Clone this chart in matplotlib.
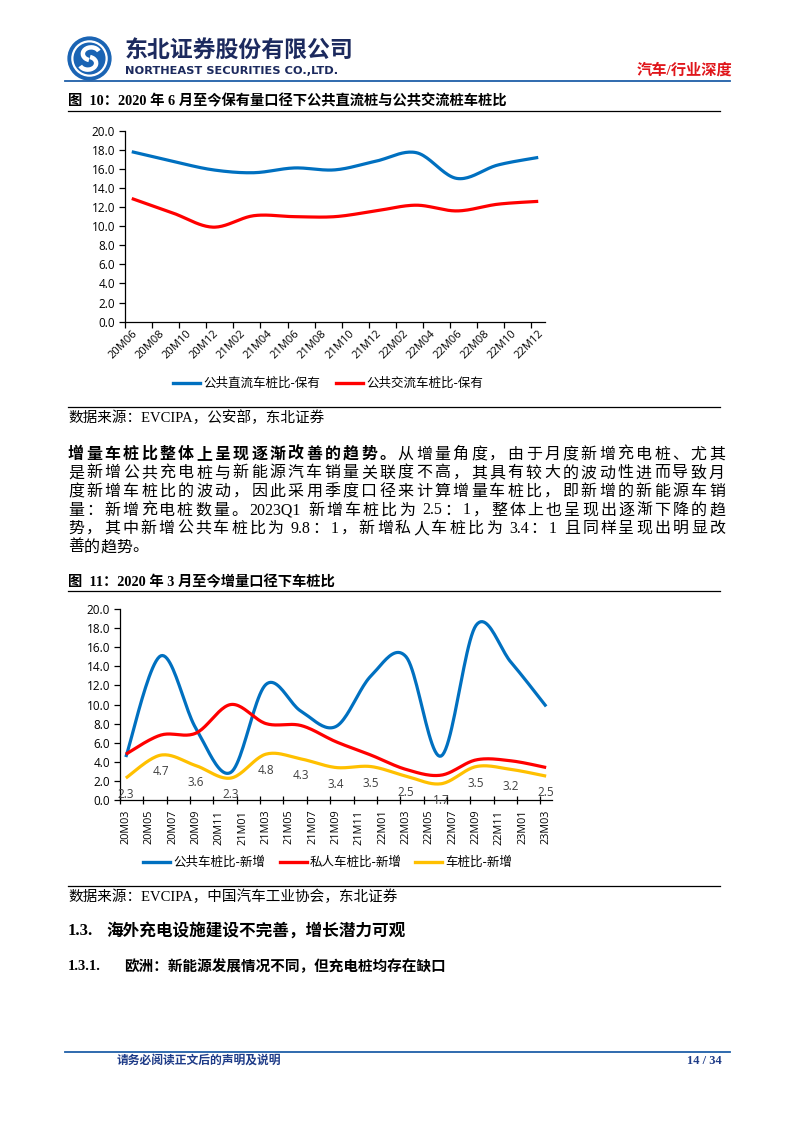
import numpy as np
import matplotlib
matplotlib.use("Agg")
import matplotlib.pyplot as plt
from matplotlib.lines import Line2D
from matplotlib.patches import Circle, Arc

# Fig 10: stock ratio, quarterly points on a monthly axis
months_fig10 = ["20M06", "20M09", "20M12", "21M03", "21M06", "21M09",
                "21M12", "22M03", "22M06", "22M09", "22M12"]
dc_public = [17.8, 16.8, 15.9, 15.6, 16.1, 15.9, 16.8, 17.7, 15.0, 16.4, 17.2]
ac_public = [12.9, 11.4, 9.9, 11.1, 11.0, 11.0, 11.6, 12.2, 11.6, 12.3, 12.6]
ticks_fig10 = ["20M06", "20M08", "20M10", "20M12", "21M02", "21M04", "21M06", "21M08",
               "21M10", "21M12", "22M02", "22M04", "22M06", "22M08", "22M10", "22M12"]
legend_fig10 = ["公共直流车桩比-保有", "公共交流车桩比-保有"]

# Fig 11: new additions, quarterly
months_fig11 = ["20M03", "20M06", "20M09", "20M12", "21M03", "21M06", "21M09",
                "21M12", "22M03", "22M06", "22M09", "22M12", "23M03"]
public_new = [4.5, 15.1, 7.5, 2.9, 12.1, 9.3, 7.7, 13.0, 15.0, 4.6, 18.3, 14.4, 9.8]
private_new = [4.8, 6.8, 7.0, 10.0, 8.0, 7.8, 6.1, 4.7, 3.2, 2.6, 4.2, 4.1, 3.4]
total_new = [2.3, 4.7, 3.6, 2.3, 4.8, 4.3, 3.4, 3.5, 2.5, 1.7, 3.5, 3.2, 2.5]
ticks_fig11 = ["20M03", "20M05", "20M07", "20M09", "20M11", "21M01", "21M03", "21M05",
               "21M07", "21M09", "21M11", "22M01", "22M03", "22M05", "22M07", "22M09",
               "22M11", "23M01", "23M03"]
legend_fig11 = ["公共车桩比-新增", "私人车桩比-新增", "车桩比-新增"]

BLUE, RED, YELLOW = "#0070c0", "#ff0000", "#ffc000"
W, H = 794, 1123
CJK = "Noto Sans CJK SC"
SERIF = ["Liberation Serif", CJK]
NUM = ["Open Sans", "DejaVu Sans"]

fig = plt.figure(figsize=(W / 100, H / 100), dpi=100)
renderer = fig.canvas.get_renderer()


def fx(x):
    return x / W


def fy(y):
    return 1 - y / H


def put(x, y, s, **kw):
    kw.setdefault("va", "center")
    return fig.text(fx(x), fy(y), s, **kw)


def hline(x0, x1, y, color="black", lw=0.9):
    fig.add_artist(Line2D([fx(x0), fx(x1)], [fy(y), fy(y)], color=color, lw=lw))


def month_index(label, start):
    return (int(label[:2]) - int(start[:2])) * 12 + int(label[3:]) - int(start[3:])


def smooth(xs, ys, n=24):
    # Excel style smoothed line: bezier segments with catmull-rom controls
    p = np.column_stack([xs, ys]).astype(float)
    p = np.vstack([p[0], p, p[-1]])
    t = np.linspace(0, 1, n)[:, None]
    out = []
    for i in range(1, len(p) - 2):
        p0, p1, p2, p3 = p[i - 1], p[i], p[i + 1], p[i + 2]
        c1 = p1 + (p2 - p0) / 6
        c2 = p2 - (p3 - p1) / 6
        seg = (1 - t) ** 3 * p1 + 3 * (1 - t) ** 2 * t * c1 + 3 * (1 - t) * t ** 2 * c2 + t ** 3 * p2
        out.append(seg if i == 1 else seg[1:])
    out = np.vstack(out)
    return out[:, 0], out[:, 1]


def style_axis(ax):
    for s in ["top", "right"]:
        ax.spines[s].set_visible(False)
    for s in ["left", "bottom"]:
        ax.spines[s].set_linewidth(0.9)
    ax.set_ylim(0, 20)
    ax.set_yticks(np.arange(0, 21, 2))
    ax.set_yticklabels([f"{v:.1f}" for v in np.arange(0, 21, 2)], fontsize=8.5, family=NUM)
    ax.tick_params(axis="y", direction="out", length=4, width=0.9, pad=3)
    ax.patch.set_alpha(0)


def draw_legend(items, y):
    for x0, label, color in items:
        hline(x0, x0 + 27, y, color=color, lw=2.4)
        put(x0 + 30, y, label, fontsize=9, family=CJK)


# ---- header ----
logo = fig.add_axes([fx(67), fy(81), 45 / W, 45 / H])
logo.set_xlim(-1.05, 1.05)
logo.set_ylim(-1.05, 1.05)
logo.set_aspect("equal")
logo.axis("off")
logo.add_patch(Circle((0, 0), 1.0, color="#1a64b4"))
logo.add_patch(Circle((0, 0), 0.8, fill=False, ec="white", lw=1.6))
logo.add_patch(Arc((0.08, 0.22), 0.78, 0.6, theta1=20, theta2=250, ec="white", lw=3.2))
logo.add_patch(Arc((-0.08, -0.22), 0.78, 0.6, theta1=200, theta2=430, ec="white", lw=3.2))

put(125, 50, "东北证券股份有限公司", fontsize=16.5, fontweight="bold", family=CJK, color="#1c2a5e")
put(125, 71, "NORTHEAST SECURITIES CO.,LTD.", fontsize=8.2, fontweight="bold",
    family="DejaVu Sans", color="#1c2a5e")
put(732, 70, "汽车/行业深度", fontsize=11, fontweight="bold", family=SERIF, color="#e0161b", ha="right")
hline(65, 730, 81, color="#1f5fa8", lw=1.3)

# ---- figure 10 ----
put(68, 101, "图  10：2020 年 6 月至今保有量口径下公共直流桩与公共交流桩车桩比",
    fontsize=10.3, fontweight="bold", family=SERIF)
hline(68, 720, 111)

ax1 = fig.add_axes([fx(125), fy(321.7), (545 - 125) / W, 191 / H])
style_axis(ax1)
x10 = [month_index(m, months_fig10[0]) for m in months_fig10]
sx, sy = smooth(x10, dc_public)
ax1.plot(sx, sy, color=BLUE, lw=2.3, solid_capstyle="butt")
sx, sy = smooth(x10, ac_public)
ax1.plot(sx, sy, color=RED, lw=2.3, solid_capstyle="butt")
n10 = month_index(ticks_fig10[-1], months_fig10[0]) + 1
ax1.set_xlim(-0.5, n10 - 0.5)
ax1.set_xticks(np.arange(-0.5, n10 - 1, 2))
ax1.set_xticklabels([])
ax1.tick_params(axis="x", direction="out", length=4, width=0.9)
ax1.set_xticks([month_index(m, months_fig10[0]) for m in ticks_fig10], minor=True)
ax1.set_xticklabels(ticks_fig10, minor=True, rotation=45, ha="right", va="top",
                    rotation_mode="anchor", fontsize=8, family=NUM)
ax1.tick_params(axis="x", which="minor", length=0, pad=5)

draw_legend([(173, legend_fig10[0], BLUE), (336, legend_fig10[1], RED)], 383)
hline(68, 720, 407)
put(68, 418, "数据来源：EVCIPA，公安部，东北证券", fontsize=10.5, family=SERIF)

# ---- paragraph, justified ----
para = [
    [("增量车桩比整体上呈现逐渐改善的趋势。", True), ("从增量角度，由于月度新增充电桩、尤其", False)],
    [("是新增公共充电桩与新能源汽车销量关联度不高，其具有较大的波动性进而导致月", False)],
    [("度新增车桩比的波动，因此采用季度口径来计算增量车桩比，即新增的新能源车销", False)],
    [("量：新增充电桩数量。2023Q1 新增车桩比为 2.5：1，整体上也呈现出逐渐下降的趋", False)],
    [("势，其中新增公共车桩比为 9.8：1，新增私人车桩比为 3.4：1 且同样呈现出明显改", False)],
    [("善的趋势。", False)],
]
line_y = [455, 473.5, 492, 510.5, 529, 547.5]
left, right = 68, 725
body_size = 11.5


def split_tokens(segments):
    toks = []
    for text, bold in segments:
        buf = ""
        for ch in text:
            if ord(ch) < 128 and ch != " ":
                buf += ch
                continue
            if buf:
                toks.append((buf, bold))
                buf = ""
            if ch == " ":
                toks.append((None, bold))
            else:
                toks.append((ch, bold))
        if buf:
            toks.append((buf, bold))
    return toks


for i, (segments, y) in enumerate(zip(para, line_y)):
    toks = split_tokens(segments)
    widths = []
    for s, bold in toks:
        if s is None:
            widths.append(3.0)
            continue
        t = put(0, 0, s, fontsize=body_size, family=SERIF, fontweight="bold" if bold else "normal")
        widths.append(t.get_window_extent(renderer).width)
        t.remove()
    gap = 0 if i == len(para) - 1 else (right - left - sum(widths)) / max(len(toks) - 1, 1)
    x = left
    for (s, bold), w in zip(toks, widths):
        if s is not None:
            put(x, y, s, fontsize=body_size, family=SERIF, fontweight="bold" if bold else "normal")
        x += w + gap

# ---- figure 11 ----
put(68, 582, "图  11：2020 年 3 月至今增量口径下车桩比", fontsize=10.3, fontweight="bold", family=SERIF)
hline(68, 720, 591)

ax2 = fig.add_axes([fx(120), fy(800), (552 - 120) / W, 191 / H])
style_axis(ax2)
x11 = [month_index(m, months_fig11[0]) for m in months_fig11]
for series, color in [(public_new, BLUE), (private_new, RED), (total_new, YELLOW)]:
    sx, sy = smooth(x11, series)
    ax2.plot(sx, sy, color=color, lw=2.3, solid_capstyle="butt")
for xv, v in zip(x11, total_new):
    ax2.annotate(f"{v:.1f}", (xv, v), xytext=(0, -12), textcoords="offset points",
                 ha="center", va="center", fontsize=8.5, family=NUM, color="#404040")
n11 = month_index(ticks_fig11[-1], months_fig11[0]) + 1
ax2.set_xlim(-0.5, n11 - 0.5)
ax2.set_xticks(np.arange(-0.5, n11 - 1, 2))
ax2.set_xticklabels([])
ax2.tick_params(axis="x", direction="inout", length=6, width=0.9)
ax2.set_xticks([month_index(m, months_fig11[0]) for m in ticks_fig11], minor=True)
ax2.set_xticklabels(ticks_fig11, minor=True, rotation=90, ha="center", va="top",
                    fontsize=7.8, family=NUM)
ax2.tick_params(axis="x", which="minor", length=0, pad=7)

draw_legend([(143, legend_fig11[0], BLUE), (280, legend_fig11[1], RED),
             (415, legend_fig11[2], YELLOW)], 862)
hline(68, 720, 886)
put(68, 897, "数据来源：EVCIPA，中国汽车工业协会，东北证券", fontsize=10.5, family=SERIF)

# ---- sections ----
put(68, 931, "1.3.", fontsize=12, fontweight="bold", family=SERIF)
put(106, 931, "海外充电设施建设不完善，增长潜力可观", fontsize=12, fontweight="bold", family=SERIF)
put(68, 967, "1.3.1.", fontsize=10.5, fontweight="bold", family=SERIF)
put(124, 967, "欧洲：新能源发展情况不同，但充电桩均存在缺口", fontsize=10.5, fontweight="bold", family=SERIF)

# ---- footer ----
hline(65, 730, 1052, color="#1f5fa8", lw=1.3)
put(117, 1061, "请务必阅读正文后的声明及说明", fontsize=8.5, fontweight="bold", family=SERIF, color="#1f3c88")
put(722, 1061, "14 / 34", fontsize=9, fontweight="bold", family=SERIF, color="#1f3c88", ha="right")

fig.savefig("out.png", dpi=100)
